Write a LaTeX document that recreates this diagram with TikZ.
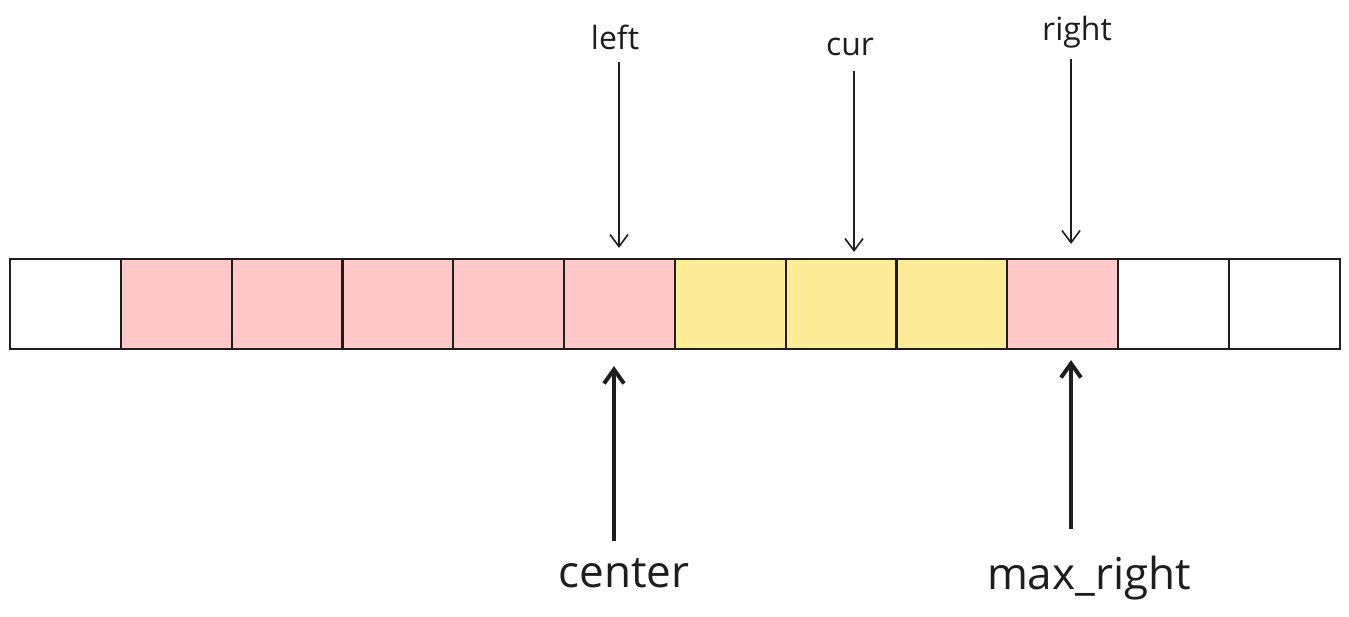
\documentclass[tikz,border=0pt]{standalone}
\usepackage{fontspec}
\setmainfont{Open Sans}
\usetikzlibrary{arrows.meta}
\definecolor{cellpink}{HTML}{FFC9C9}
\definecolor{cellyellow}{HTML}{FFEC99}
\definecolor{ink}{HTML}{1E1E1E}
\tikzset{
  cell/.style={draw=ink,line width=1.1pt,minimum width=55.4pt,minimum height=45pt,inner sep=0pt},
  ptr/.style={-{Straight Barb[length=6pt,width=9pt]},draw=ink,line width=0.8pt},
  bigptr/.style={-{Straight Barb[length=7pt,width=10pt]},draw=ink,line width=2pt},
  lbl/.style={text=ink,font=\fontsize{16}{18}\selectfont},
  biglbl/.style={text=ink,font=\fontsize{22}{24}\selectfont}
}
\begin{document}
\begin{tikzpicture}[x=0.5pt,y=-0.5pt]
\useasboundingbox[fill=white] (0,0) rectangle (1349,616);
\foreach \i/\c in {0/white,1/cellpink,2/cellpink,3/cellpink,4/cellpink,5/cellpink,
  6/cellyellow,7/cellyellow,8/cellyellow,9/cellpink,10/white,11/white}
  \node[cell,fill=\c] (c\i) at ({65.4+110.8*\i},304) {};
\node[lbl] (left) at (615,37) {left};
\node[lbl] (cur) at (850,47) {cur};
\node[lbl] (right) at (1077,32) {right};
\node[biglbl] (center) at (624,573) {center};
\node[biglbl] (maxright) at (1089,578) {max\_right};
\draw[ptr,shorten <=3pt,shorten >=5pt] ([xshift=2pt]left.south) -- ([xshift=2pt]left.south |- c5.north);
\draw[ptr,shorten <=4pt,shorten >=3pt] ([xshift=2pt]cur.south) -- ([xshift=2pt]cur.south |- c7.north);
\draw[ptr,shorten <=2pt,shorten >=7pt] ([xshift=-3pt]right.south) -- ([xshift=-3pt]right.south |- c9.north);
\draw[bigptr,shorten <=5pt,shorten >=8pt] ([xshift=-5pt]center.north) -- ([xshift=-5pt]center.north |- c5.south);
\draw[bigptr,shorten <=10pt,shorten >=5pt] ([xshift=-9pt]maxright.north) -- ([xshift=-9pt]maxright.north |- c9.south);
\end{tikzpicture}
\end{document}
